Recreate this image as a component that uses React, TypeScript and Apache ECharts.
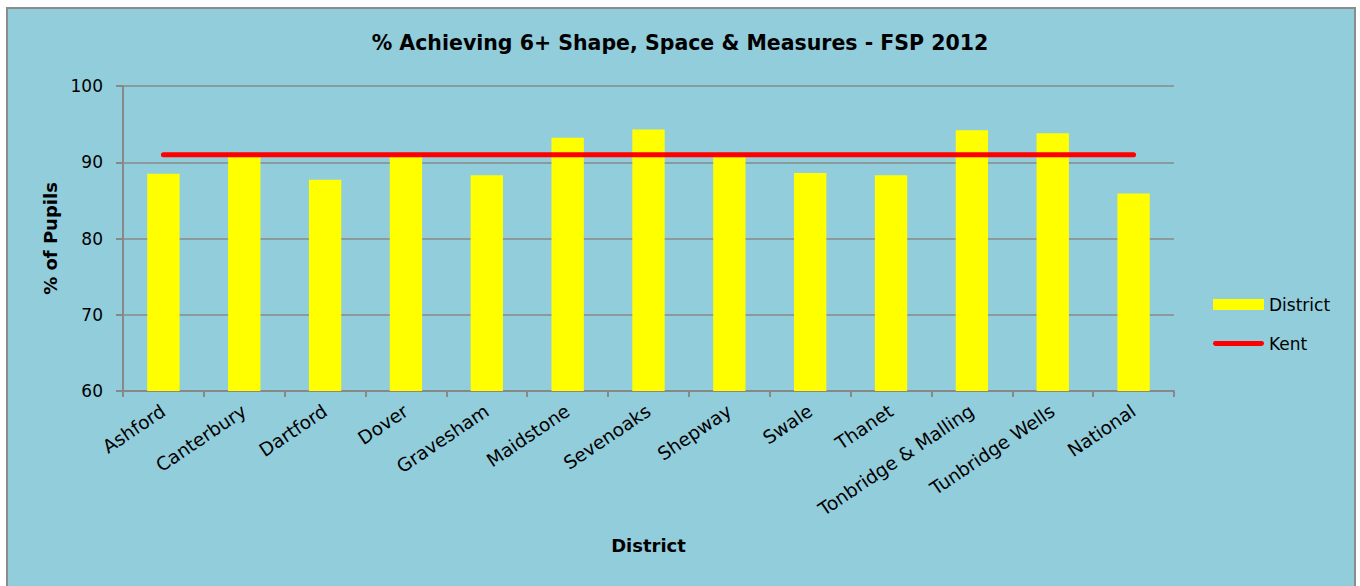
import React, { useEffect, useRef } from "react";
import * as echarts from "echarts";

const categories = [
  "Ashford",
  "Canterbury",
  "Dartford",
  "Dover",
  "Gravesham",
  "Maidstone",
  "Sevenoaks",
  "Shepway",
  "Swale",
  "Thanet",
  "Tonbridge & Malling",
  "Tunbridge Wells",
  "National",
];
const districtValues = [88.5, 91.0, 87.7, 91.0, 88.3, 93.2, 94.3, 91.0, 88.6, 88.3, 94.2, 93.8, 85.9];
const kentValues = [91.0, 91.0, 91.0, 91.0, 91.0, 91.0, 91.0, 91.0, 91.0, 91.0, 91.0, 91.0, 91.0];
const yTicks = { min: 60, max: 100, interval: 10 };

const FONT = "'DejaVu Sans', Verdana, sans-serif";

export default function App() {
  const ref = useRef<HTMLDivElement>(null);
  useEffect(() => {
    if (!ref.current) return;
    const chart = echarts.init(ref.current, null, { renderer: "svg" });
    chart.setOption({
      animation: false,
      backgroundColor: "#ffffff",
      textStyle: { fontFamily: FONT },
      graphic: [
        {
          type: "rect",
          z: -10,
          shape: { x: 7, y: 8, width: 1348, height: 600 },
          style: { fill: "#92CDDC", stroke: "#8c8c8c", lineWidth: 2 },
        },
      ],
      title: {
        text: "% Achieving 6+ Shape, Space & Measures - FSP 2012",
        left: "center",
        top: 27,
        textStyle: { fontFamily: FONT, fontWeight: "bold", fontSize: 20.5, color: "#000" },
      },
      legend: {
        orient: "vertical",
        left: 1208,
        top: 291,
        itemWidth: 51,
        itemHeight: 11,
        itemGap: 22,
        textStyle: { fontFamily: FONT, fontSize: 17, color: "#000" },
        data: [
          { name: "District", icon: "rect" },
          { name: "Kent", icon: "path://M5,0 L99,0 A5,5 0 0 1 99,10 L5,10 A5,5 0 0 1 5,0 Z" },
        ],
      },
      grid: { left: 123, right: 186, top: 86, bottom: 195, containLabel: false },
      xAxis: {
        type: "category",
        data: categories,
        name: "District",
        nameLocation: "middle",
        nameGap: 145,
        nameTextStyle: { fontFamily: FONT, fontWeight: "bold", fontSize: 18, color: "#000" },
        axisLine: { lineStyle: { color: "#888888", width: 2 } },
        axisTick: { show: true, alignWithLabel: false, length: 6, lineStyle: { color: "#888888", width: 2 } },
        axisLabel: { interval: 0, rotate: 34, margin: 18, fontSize: 18.5, color: "#000", fontFamily: FONT },
      },
      yAxis: {
        type: "value",
        min: yTicks.min,
        max: yTicks.max,
        interval: yTicks.interval,
        name: "% of Pupils",
        nameLocation: "middle",
        nameGap: 62,
        nameTextStyle: { fontFamily: FONT, fontWeight: "bold", fontSize: 18, color: "#000" },
        axisLine: { show: true, lineStyle: { color: "#888888", width: 2 } },
        axisTick: { show: true, length: 7, lineStyle: { color: "#888888", width: 2 } },
        axisLabel: { margin: 20, fontSize: 17, color: "#000", fontFamily: FONT },
        splitLine: { lineStyle: { color: "#888888", width: 1.5 } },
      },
      series: [
        {
          name: "District",
          type: "bar",
          data: districtValues,
          barCategoryGap: "60%",
          itemStyle: { color: "#FFFF00" },
          z: 2,
        },
        {
          name: "Kent",
          type: "line",
          data: kentValues,
          symbol: "none",
          lineStyle: { color: "#FF0000", width: 5, cap: "round" },
          itemStyle: { color: "#FF0000" },
          z: 3,
        },
      ],
    });
    return () => chart.dispose();
  }, []);
  return (
    <div
      ref={ref}
      style={{ position: "fixed", left: 0, top: 0, width: 1360, height: 586 }}
    />
  );
}
